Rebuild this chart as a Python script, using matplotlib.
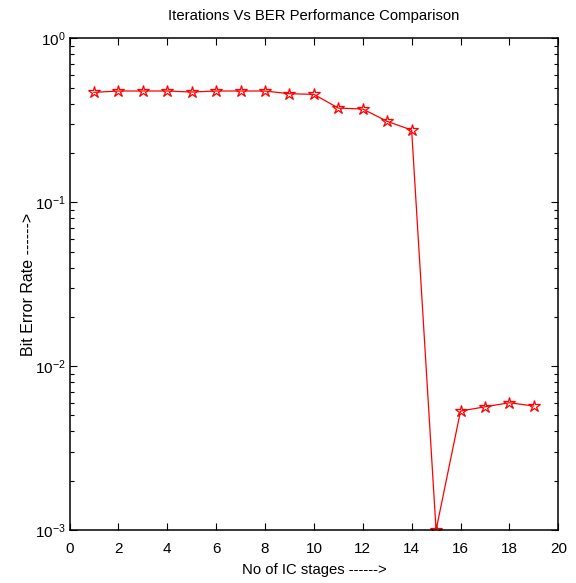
import matplotlib
matplotlib.use("Agg")
import matplotlib.pyplot as plt

stages = list(range(1, 20))
ber = [0.469, 0.478, 0.478, 0.478, 0.471, 0.478, 0.478, 0.478, 0.460, 0.456,
       0.376, 0.371, 0.312, 0.276, 0.001, 0.00532, 0.00565, 0.00598, 0.00571]
xticks = list(range(0, 21, 2))
title = "Iterations Vs BER Performance Comparison"
xlabel = "No of IC stages ------>"
ylabel = "Bit Error Rate ------>"

plt.rcParams['font.family'] = ['Liberation Sans', 'DejaVu Sans']
plt.rcParams['mathtext.fontset'] = 'custom'
plt.rcParams['mathtext.rm'] = 'Liberation Sans'
plt.rcParams['mathtext.it'] = 'Liberation Sans'
plt.rcParams['mathtext.default'] = 'regular'

fig = plt.figure(figsize=(5.76, 5.83), dpi=100)
ax = fig.add_axes([0.1207, 0.0909, 0.8485, 0.8431])
ax.plot(stages, ber, color='red', linewidth=0.9, marker='*', markersize=9,
        markerfacecolor='none', markeredgecolor='red', markeredgewidth=0.9)
ax.set_yscale('log')
ax.set_xlim(0, 20)
ax.set_ylim(1e-3, 1)
ax.set_xticks(xticks)
ax.tick_params(which='both', direction='in', top=True, right=True, labelsize=11)
ax.tick_params(axis='x', pad=8.5)
ax.tick_params(axis='y', pad=3)
ax.tick_params(which='major', length=5, width=0.8)
ax.tick_params(which='minor', length=3, width=0.8)
for s in ax.spines.values():
    s.set_linewidth(1.1)
ax.set_title(title, fontsize=10.7, pad=13)
ax.set_xlabel(xlabel, fontsize=10.7, labelpad=5)
ax.set_ylabel(ylabel, fontsize=11.5, labelpad=-1)
fig.savefig("out.png", dpi=100)
